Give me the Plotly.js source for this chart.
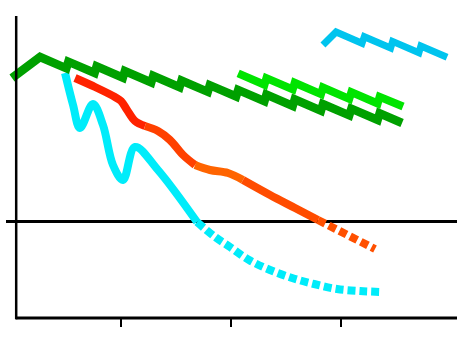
<!DOCTYPE html>
<html><head><meta charset="utf-8">
<script src="https://cdn.plot.ly/plotly-3.0.1.min.js"></script>
<style>html,body{margin:0;padding:0;background:#fff}#chart{width:471px;height:338px}</style>
</head><body><div id="chart"></div>
<script>
// Dark green zig-zag series
const darkGreenX = [0.009,0.264,0.503,0.521,0.760,0.778,1.017,1.035,1.275,1.293,1.532,1.550,1.789,1.807,2.046,2.065,2.304,2.322,2.561,2.579,2.818,2.836,3.075,3.094,3.333,3.351,3.555];
const darkGreenY = [14.35,16.45,15.32,15.98,14.85,15.51,14.38,15.04,13.91,14.57,13.44,14.10,12.97,13.63,12.50,13.16,12.03,12.69,11.56,12.22,11.09,11.75,10.62,11.28,10.15,10.81,9.85];
// Light green zig-zag series
const lightGreenX = [2.065,2.304,2.322,2.561,2.579,2.818,2.836,3.075,3.094,3.333,3.351,3.564];
const lightGreenY = [14.81,13.68,14.34,13.21,13.87,12.74,13.40,12.27,12.93,11.80,12.46,11.50];
// Light blue zig-zag series
const blueX = [2.836,2.955,3.191,3.212,3.451,3.469,3.708,3.726,3.964];
const blueY = [17.65,18.95,17.83,18.48,17.35,18.01,16.88,17.54,16.42];
// Red/orange series (solid part, then dotted projection)
const redX = [0.582,0.764,0.945,1.000,1.055,1.127,1.218,1.336,1.445,1.564,1.673,1.809,1.973,2.109,2.355,2.582,2.791];
const redY = [14.35,13.45,12.45,12.05,11.15,10.05,9.55,9.05,8.15,6.65,5.65,5.15,4.85,4.15,2.65,1.35,0.15];
const redDotX = [2.791,3.309];
const redDotY = [0.15,-2.75];
// Cyan series (solid part, then dotted projection)
const cyanX = [0.491,0.564,0.627,0.745,0.836,0.927,1.018,1.127,1.336,1.691];
const cyanY = [14.85,11.65,9.35,11.75,9.65,5.65,4.15,7.45,5.15,-0.05];
const cyanDotX = [1.691,1.855,1.991,2.164,2.355,2.555,2.755,2.964,3.173,3.373];
const cyanDotY = [-0.05,-1.55,-2.55,-3.85,-4.85,-5.65,-6.25,-6.75,-6.95,-7.05];
const xTicks = [1,2,3];

const traces = [];
function ln(x, y, color, width, dash, shape) {
  traces.push({type:'scatter', mode:'lines', x:x, y:y, hoverinfo:'skip',
    line:{color:color, width:width, dash:dash||'solid', shape:shape||'linear', smoothing:1}});
}
// red segments with changing hue
const redSegs = [[0,6,'#ff2200'],[6,10,'#ff4000'],[10,13,'#ff6400'],[13,16,'#ff4c00']];
redSegs.forEach(s => ln(redX.slice(s[0], s[1]+1), redY.slice(s[0], s[1]+1), s[2], 8, 'solid', 'spline'));
ln(redDotX, redDotY, '#ff5000', 8, '8px,4px');
ln(cyanX, cyanY, '#00ecfa', 8, 'solid', 'spline');
ln(cyanDotX, cyanDotY, '#00ecfa', 8, '8px,4px', 'spline');
ln(darkGreenX, darkGreenY, '#00a000', 8.5);
ln(lightGreenX, lightGreenY, '#00e400', 8);
ln(blueX, blueY, '#00c4ee', 7);

const layout = {
  width:471, height:338,
  margin:{l:6, r:14, t:16, b:20},
  paper_bgcolor:'#ffffff', plot_bgcolor:'#ffffff',
  showlegend:false,
  xaxis:{range:[-0.0455,4.0545], showgrid:false, zeroline:false, showline:false,
    tickvals:xTicks, ticks:'outside', ticklen:8, tickwidth:2, tickcolor:'#000',
    showticklabels:false, fixedrange:true},
  yaxis:{range:[-9.65,20.55], showgrid:false, zeroline:true, zerolinecolor:'#000',
    zerolinewidth:3, showline:false, ticks:'', showticklabels:false, fixedrange:true},
  shapes:[
    {type:'line', xref:'paper', yref:'paper', x0:0.0226, x1:0.0226, y0:-0.004, y1:1, line:{color:'#000', width:2.5}},
    {type:'line', xref:'paper', yref:'paper', x0:0.0215, x1:1, y0:0, y1:0, line:{color:'#000', width:3}}
  ]
};
Plotly.newPlot('chart', traces, layout, {displayModeBar:false, staticPlot:true});
</script></body></html>
